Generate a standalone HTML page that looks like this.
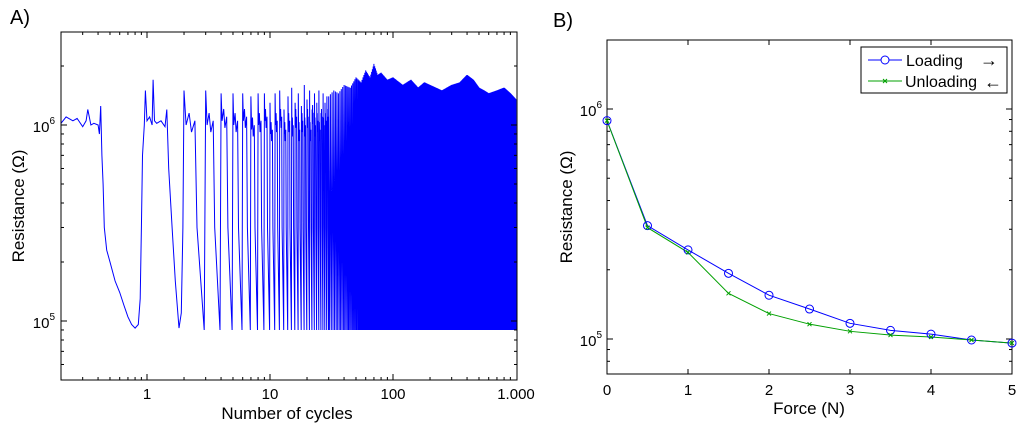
<!DOCTYPE html>
<html><head><meta charset="utf-8"><style>
body{margin:0;background:#fff;}
svg{display:block;font-family:"Liberation Sans",Arial,sans-serif;}
</style></head><body>
<svg id="s" width="1024" height="427" viewBox="0 0 1024 427">
<text x="10" y="24" font-size="20">A)</text>
<text x="553" y="27" font-size="20">B)</text>
<g id="ga"></g>
<g id="gb"></g>
</svg>
<script>
// ---- Chart A data ----
const earlyX = [0.2,0.22,0.25,0.27,0.3,0.32,0.33,0.35,0.37,0.4,0.41,0.42,0.43,0.44,0.45,0.47,0.5,0.55,0.6,0.65,0.7,0.75,0.8,0.85,0.88,0.9,0.92,0.95,0.97,1.0,1.05,1.1,1.12,1.15,1.2,1.3,1.4,1.45,1.5,1.6,1.7,1.82,1.9,1.96];
const earlyR = [1.02e6,1.1e6,1.05e6,1.08e6,0.98e6,1.05e6,1.2e6,1.0e6,1.02e6,1.0e6,0.9e6,1.25e6,0.7e6,0.5e6,3.0e5,2.3e5,2.0e5,1.6e5,1.4e5,1.2e5,1.05e5,9.6e4,9.2e4,9.6e4,1.3e5,3e5,7e5,1.0e6,1.5e6,1.05e6,1.1e6,1.0e6,1.7e6,1.05e6,1.02e6,1.05e6,0.98e6,1.2e6,6e5,3e5,1.6e5,9.2e4,1.1e5,3e5];
const cyclePeakN = [2,3,4,5,6,7,8,9,10,11,12,13,14,15,16,17,18,19,20,21,22,23,24,25,26,27,28,29];
const cyclePeakR = [1.5e6,1.5e6,1.45e6,1.45e6,1.45e6,1.4e6,1.45e6,1.45e6,1.3e6,1.45e6,1.5e6,1.2e6,1.4e6,1.55e6,1.3e6,1.45e6,1.25e6,1.6e6,1.35e6,1.5e6,1.2e6,1.45e6,1.3e6,1.5e6,1.15e6,1.45e6,1.3e6,1.4e6];
const cyclePlatR = [1.0e6,1.0e6,1.05e6,1.0e6,1.05e6,0.95e6,1.0e6,1.05e6,0.9e6,1.0e6,1.05e6,0.9e6,1.0e6,0.95e6,1.05e6,0.9e6,1.0e6,0.95e6,1.05e6,0.9e6,1.1e6,0.95e6,1.0e6,0.9e6,1.05e6,0.95e6,1.0e6,1.05e6];
const envN = [30,33,36,40,45,50,55,60,65,70,75,80,90,100,120,140,160,180,200,250,300,350,400,450,500,550,600,700,800,900,1000];
const envR = [1.4e6,1.5e6,1.45e6,1.6e6,1.55e6,1.75e6,1.65e6,1.9e6,1.75e6,2.05e6,1.8e6,1.85e6,1.7e6,1.75e6,1.6e6,1.7e6,1.55e6,1.65e6,1.6e6,1.5e6,1.6e6,1.65e6,1.8e6,1.7e6,1.55e6,1.5e6,1.45e6,1.5e6,1.55e6,1.45e6,1.35e6];
const minR = 9.0e4;
const xTicksA = [1,10,100,1000];
const xTickLabelsA = ["1","10","100","1.000"];
const yTicksA = [5,6];
// ---- Chart B data ----
const forces = [0,0.5,1,1.5,2,2.5,3,3.5,4,4.5,5];
const loading = [8.9e5,3.11e5,2.44e5,1.93e5,1.55e5,1.35e5,1.17e5,1.09e5,1.05e5,9.9e4,9.6e4];
const unloading = [8.9e5,3.05e5,2.38e5,1.58e5,1.29e5,1.16e5,1.08e5,1.04e5,1.02e5,9.9e4,9.6e4];
const xTicksB = [0,1,2,3,4,5];
const yTicksB = [5,6];

const NS="http://www.w3.org/2000/svg";
function mk(p,tag,a){const e=document.createElementNS(NS,tag);for(const k in a)e.setAttribute(k,a[k]);p.appendChild(e);return e;}

// ===== Chart A =====
const A={l:61,r:517,t:32,b:380};
const xa=v=>147+123*Math.log10(v);
const ya=v=>125-196*(Math.log10(v)-6);
const ga=document.getElementById('ga');
function envAt(n){
  let i=0; while(i<envN.length-2 && envN[i+1]<n) i++;
  const t=(Math.log10(n)-Math.log10(envN[i]))/(Math.log10(envN[i+1])-Math.log10(envN[i]));
  return Math.pow(10,Math.log10(envR[i])+t*(Math.log10(envR[i+1])-Math.log10(envR[i])));
}
let d='';
earlyX.forEach((x,i)=>{d+=(i?'L':'M')+xa(x).toFixed(1)+' '+ya(earlyR[i]).toFixed(1);});
for(let n=2;n<1000;n++){
  if(n<30){
    const k=cyclePeakN.indexOf(n);
    const pk=cyclePeakR[k], pl=cyclePlatR[k];
    d+='L'+xa(n).toFixed(1)+' '+ya(pk).toFixed(1);
    d+='L'+xa(n+0.08).toFixed(1)+' '+ya(pl).toFixed(1);
    d+='L'+xa(n+0.2).toFixed(1)+' '+ya(pl*1.15).toFixed(1);
    d+='L'+xa(n+0.3).toFixed(1)+' '+ya(pl*0.92).toFixed(1);
    d+='L'+xa(n+0.45).toFixed(1)+' '+ya(pl*1.05).toFixed(1);
    d+='L'+xa(n+0.55).toFixed(1)+' '+ya(3e5).toFixed(1);
    d+='L'+xa(n+0.92).toFixed(1)+' '+ya(minR).toFixed(1);
  } else {
    d+='L'+xa(n).toFixed(1)+' '+ya(envAt(n)).toFixed(1);
    d+='L'+xa(n+0.5).toFixed(1)+' '+ya(minR).toFixed(1);
  }
}
const clipA=mk(ga,'clipPath',{id:'ca'});mk(clipA,'rect',{x:A.l,y:A.t,width:A.r-A.l,height:A.b-A.t});
const sig=mk(ga,'path',{d:d,fill:'none',stroke:'#0000ff','stroke-width':1,'clip-path':'url(#ca)'});


const boxA=mk(ga,'rect',{x:A.l,y:A.t,width:A.r-A.l,height:A.b-A.t,fill:'none',stroke:'#000','stroke-width':1});


for(let e=-1;e<3;e++)for(let m=1;m<10;m++){
  const v=m*Math.pow(10,e); const x=xa(v); if(x<A.l||x>A.r+1) continue;
  const len=m==1?6:3;
  mk(ga,'line',{x1:x,x2:x,y1:A.b,y2:A.b-len,stroke:'#000'});
  mk(ga,'line',{x1:x,x2:x,y1:A.t,y2:A.t+len,stroke:'#000'});
}
xTicksA.forEach((v,i)=>{
  const t=mk(ga,'text',{x:xa(v),y:399,'font-size':15,'text-anchor':'middle'});t.textContent=xTickLabelsA[i];
  
  
});
for(let e=4;e<7;e++)for(let m=1;m<10;m++){
  const y=ya(m*Math.pow(10,e)); if(y<A.t||y>A.b) continue;
  const len=m==1?6:3;
  mk(ga,'line',{x1:A.l,x2:A.l+len,y1:y,y2:y,stroke:'#000'});
  mk(ga,'line',{x1:A.r,x2:A.r-len,y1:y,y2:y,stroke:'#000'});
}
yTicksA.forEach(e=>{
  const t=mk(ga,'text',{x:55,y:ya(Math.pow(10,e))+7,'font-size':15,'text-anchor':'end'});
  t.innerHTML='10<tspan dy="-8" font-size="10">'+e+'</tspan>';
  
  
});
let tt=mk(ga,'text',{x:0,y:0,'font-size':17,'text-anchor':'middle',transform:'translate(24,206) rotate(-90)'});
tt.textContent='Resistance (Ω)';


tt=mk(ga,'text',{x:287,y:419,'font-size':17,'text-anchor':'middle'});tt.textContent='Number of cycles';



// ===== Chart B =====
const B={l:607,r:1012,t:40,b:374};
const xb=v=>B.l+(B.r-B.l)*v/5;
const yb=v=>109-230*(Math.log10(v)-6);
const gb=document.getElementById('gb');
const boxB=mk(gb,'rect',{x:B.l,y:B.t,width:B.r-B.l,height:B.b-B.t,fill:'none',stroke:'#000'});


xTicksB.forEach(v=>{
  const x=xb(v);
  mk(gb,'line',{x1:x,x2:x,y1:B.b,y2:B.b-5,stroke:'#000'});
  mk(gb,'line',{x1:x,x2:x,y1:B.t,y2:B.t+5,stroke:'#000'});
  const t=mk(gb,'text',{x:x,y:395,'font-size':15,'text-anchor':'middle'});t.textContent=v;
  
  
});
for(let e=4;e<7;e++)for(let m=1;m<10;m++){
  const y=yb(m*Math.pow(10,e)); if(y<B.t||y>B.b) continue;
  const len=m==1?6:3;
  mk(gb,'line',{x1:B.l,x2:B.l+len,y1:y,y2:y,stroke:'#000'});
  mk(gb,'line',{x1:B.r,x2:B.r-len,y1:y,y2:y,stroke:'#000'});
}
yTicksB.forEach(e=>{
  const t=mk(gb,'text',{x:602,y:yb(Math.pow(10,e))+7,'font-size':15,'text-anchor':'end'});
  t.innerHTML='10<tspan dy="-8" font-size="10">'+e+'</tspan>';
  
  
});
tt=mk(gb,'text',{x:0,y:0,'font-size':17,'text-anchor':'middle',transform:'translate(572,207) rotate(-90)'});
tt.textContent='Resistance (Ω)';


tt=mk(gb,'text',{x:809,y:414,'font-size':17,'text-anchor':'middle'});tt.textContent='Force (N)';


const pl=mk(gb,'polyline',{points:forces.map((f,i)=>xb(f)+','+yb(loading[i])).join(' '),fill:'none',stroke:'#0000ff'});


const pu=mk(gb,'polyline',{points:forces.map((f,i)=>xb(f)+','+yb(unloading[i])).join(' '),fill:'none',stroke:'#00a000'});


forces.forEach((f,i)=>{
  const c=mk(gb,'circle',{cx:xb(f),cy:yb(loading[i]),r:4,fill:'none',stroke:'#0000ff'});
  
  
  const x=xb(f),y=yb(unloading[i]);
  const m=mk(gb,'path',{d:`M${x-2} ${y-2}L${x+2} ${y+2}M${x-2} ${y+2}L${x+2} ${y-2}`,stroke:'#00a000'});
  
  
});
const lg=mk(gb,'g',{});


mk(lg,'rect',{x:861,y:47,width:146,height:46,fill:'#fff',stroke:'#000'});
mk(lg,'line',{x1:868,x2:902,y1:60,y2:60,stroke:'#0000ff'});
mk(lg,'circle',{cx:885,cy:60,r:4,fill:'#fff',stroke:'#0000ff'});
mk(lg,'line',{x1:868,x2:902,y1:81,y2:81,stroke:'#00a000'});
mk(lg,'path',{d:'M883 79L887 83M883 83L887 79',stroke:'#00a000'});
let t1=mk(lg,'text',{x:906,y:66,'font-size':16});t1.textContent='Loading';


mk(lg,'text',{x:980,y:66,'font-size':18}).textContent='→';
let t2=mk(lg,'text',{x:905,y:87,'font-size':16});t2.textContent='Unloading';


mk(lg,'text',{x:984,y:88,'font-size':18}).textContent='←';
</script>
</body></html>
